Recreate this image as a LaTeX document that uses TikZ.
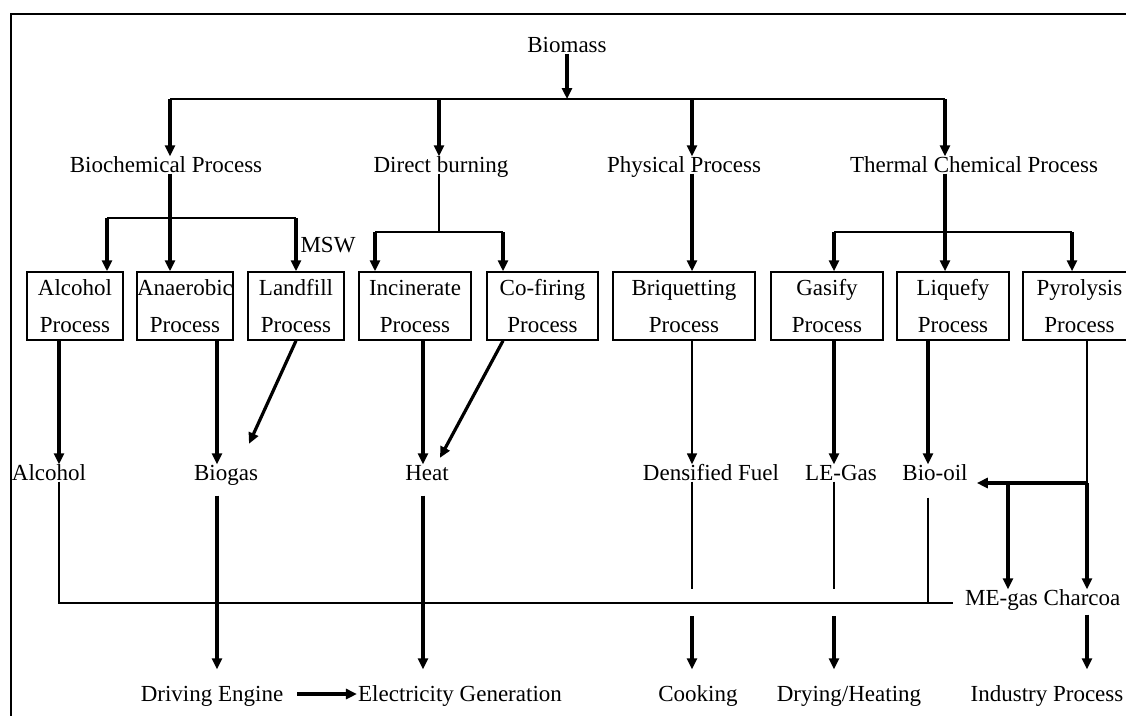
\documentclass[tikz,border=0pt]{standalone}
\usepackage{fontspec}
\setmainfont{Liberation Serif}
\usetikzlibrary{arrows.meta}

\tikzset{
  lbl/.style={inner sep=1pt, text height=15pt, text depth=0pt},
  procbox/.style={draw, line width=1.5pt, minimum height=68pt, inner sep=0pt, align=center},
  arr/.style={-{Triangle[length=11pt,width=10pt]}, line width=3.2pt},
  thinarr/.style={-{Triangle[length=11pt,width=10pt]}, line width=1.5pt},
  link/.style={line width=1.5pt},
  bus/.style={line width=2.2pt},
}

\begin{document}
\begin{tikzpicture}[x=1pt, y=-1pt, font=\fontsize{23}{37}\selectfont]
\useasboundingbox (0,0) rectangle (1126,716);
\draw[line width=2.2pt] (1126,14) -- (11,14) -- (11,716);

% labels
\node[lbl] (biomass) at (567,45) {Biomass};
\node[lbl] (biochem) at (166,165) {Biochemical Process};
\node[lbl] (direct) at (441,165) {Direct burning};
\node[lbl] (physical) at (684,165) {Physical Process};
\node[lbl] (thermal) at (974,165) {Thermal Chemical Process};
\node[lbl] (msw) at (328,245) {MSW};

% process boxes
\node[procbox, minimum width=96pt] (alcproc) at (75,306) {Alcohol\\Process};
\node[procbox, minimum width=96pt] (anaproc) at (185,306) {Anaerobic\\Process};
\node[procbox, minimum width=96pt] (landproc) at (296,306) {Landfill\\Process};
\node[procbox, minimum width=112pt] (incproc) at (415,306) {Incinerate\\Process};
\node[procbox, minimum width=111pt] (cofproc) at (542.5,306) {Co-firing\\Process};
\node[procbox, minimum width=142pt] (briqproc) at (684,306) {Briquetting\\Process};
\node[procbox, minimum width=112pt] (gasproc) at (827,306) {Gasify\\Process};
\node[procbox, minimum width=112pt] (liqproc) at (953,306) {Liquefy\\Process};
\node[procbox, minimum width=113pt] (pyrproc) at (1079.5,306) {Pyrolysis\\Process};

% products
\node[lbl] (alcohol) at (49,473) {Alcohol};
\node[lbl] (biogas) at (226,473) {Biogas};
\node[lbl] (heat) at (427,473) {Heat};
\node[lbl] (dens) at (711,473) {Densified Fuel};
\node[lbl] (legas) at (841,473) {LE-Gas};
\node[lbl] (bioil) at (935,473) {Bio-oil};
\node[lbl] (megas) at (1001.5,598) {ME-gas};
\node[lbl] (charcoal) at (1082,598) {Charcoa};

% end uses
\node[lbl] (driving) at (212,694) {Driving Engine};
\node[lbl] (elec) at (460,694) {Electricity Generation};
\node[lbl] (cooking) at (698,694) {Cooking};
\node[lbl] (drying) at (849,694) {Drying/Heating};
\node[lbl] (industry) at (1047,694) {Industry Process};

% junctions
\coordinate (t1) at (170,99);
\coordinate (t2) at (439,99);
\coordinate (t3) at (692,99);
\coordinate (t4) at (945,99);
\coordinate (b1) at (107,218);
\coordinate (b3) at (296,218);
\coordinate (d1) at (375,232);
\coordinate (d2) at (503,232);
\coordinate (h1) at (834,232);
\coordinate (h3) at (1072,232);
\coordinate (kAlc) at (59,0);
\coordinate (kBio) at (217,0);
\coordinate (kInc) at (423,0);
\coordinate (kLiq) at (928,0);
\coordinate (kMe) at (1008,0);
\coordinate (kPyr) at (1087,0);
\coordinate (pj) at (1087,483);
\coordinate (fy) at (0,603);

% top level
\draw[arr] (biomass.south) -- (biomass.south |- t1);
\draw[bus] (t1) -- (t4);
\draw[arr] (t1) -- (t1 |- biochem.north);
\draw[arr] (t2) -- (t2 |- direct.north);
\draw[arr] (t3) -- (t3 |- physical.north);
\draw[arr] (t4) -- (t4 |- thermal.north);

% biochemical
\draw[arr] (biochem.south -| t1) -- (t1 |- anaproc.north);
\draw[bus] (b1) -- (b3);
\draw[arr] (b1) -- (b1 |- alcproc.north);
\draw[arr] (b3) -- (b3 |- landproc.north);

% direct burning
\draw[link] (direct.south -| t2) -- (t2 |- d1);
\draw[bus] (d1) -- (d2);
\draw[arr] (d1) -- (d1 |- incproc.north);
\draw[arr] (d2) -- (d2 |- cofproc.north);

% physical
\draw[arr] (physical.south -| t3) -- (t3 |- briqproc.north);

% thermal chemical
\draw[arr] (thermal.south -| t4) -- (t4 |- liqproc.north);
\draw[bus] (h1) -- (h3);
\draw[arr] (h1) -- (h1 |- gasproc.north);
\draw[arr] (h3) -- (h3 |- pyrproc.north);

% box outputs
\draw[arr] (alcproc.south -| kAlc) -- (kAlc |- alcohol.north);
\draw[arr] (anaproc.south -| kBio) -- (kBio |- biogas.north);
\draw[arr] (landproc.south) -- ([xshift=23pt,yshift=20.5pt]biogas.north);
\draw[arr] (incproc.south -| kInc) -- (kInc |- heat.north);
\draw[arr] ([xshift=-39.5pt]cofproc.south) -- ([xshift=13pt,yshift=6.5pt]heat.north);
\draw[thinarr] (briqproc.south -| t3) -- (t3 |- dens.north);
\draw[arr] (gasproc.south -| h1) -- (h1 |- legas.north);
\draw[arr] (liqproc.south -| kLiq) -- (kLiq |- bioil.north);
\draw[link] (pyrproc.south -| kPyr) -- (pj);
\draw[arr, shorten >=8pt] (pj) -- (pj -| bioil.east);
\draw[arr] (kMe |- pj) -- (kMe |- megas.north);
\draw[arr] (pj) -- (kPyr |- charcoal.north);

% lower level
\draw[link, shorten >=11pt] (alcohol.south -| kAlc) |- (megas.west |- fy);
\draw[link, shorten <=16pt] (bioil.south -| kLiq) -- (kLiq |- fy);
\draw[arr, shorten <=14pt, shorten >=16pt] (biogas.south -| kBio) -- (kBio |- driving.north);
\draw[arr, shorten <=14pt, shorten >=16pt] (heat.south -| kInc) -- (kInc |- elec.north);
\draw[arr, shorten <=13pt] (driving.east) -- (elec.west);
\draw[link, shorten >=14pt] (dens.south -| t3) -- (t3 |- fy);
\draw[arr, shorten <=13pt, shorten >=16pt] (t3 |- fy) -- (t3 |- cooking.north);
\draw[link, shorten >=14pt] (legas.south -| h1) -- (h1 |- fy);
\draw[arr, shorten <=13pt, shorten >=16pt] (h1 |- fy) -- (h1 |- drying.north);
\draw[arr, shorten <=8pt, shorten >=16pt] (charcoal.south -| kPyr) -- (kPyr |- industry.north);
\end{tikzpicture}
\end{document}
